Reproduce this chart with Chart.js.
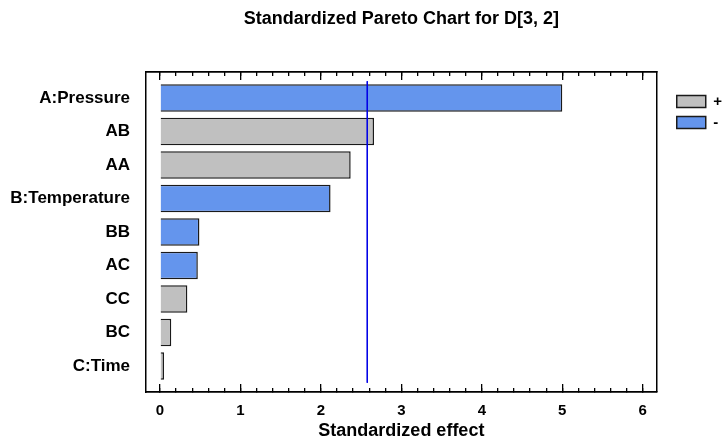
<!DOCTYPE html>
<html>
<head>
<meta charset="utf-8">
<title>Standardized Pareto Chart</title>
<script src="https://cdn.jsdelivr.net/npm/chart.js@4/dist/chart.umd.min.js"></script>
<style>
  body { margin: 0; background: #fff; }
  #wrap { width: 724px; height: 440px; }
</style>
</head>
<body>
<div id="wrap"><canvas id="paretoChart" width="724" height="440"></canvas></div>
<script>
'use strict'

// effects, largest first
let factors = ['A:Pressure', 'AB', 'AA', 'B:Temperature', 'BB', 'AC', 'CC', 'BC', 'C:Time'];
let effects = [5.00, 2.66, 2.37, 2.12, 0.49, 0.47, 0.34, 0.14, 0.05];
let signs = ['-', '+', '+', '-', '-', '-', '+', '+', '+'];
let criticalValue = 2.576;

let legendSigns = ['+', '-'];
let signColors = { '+': '#c0c0c0', '-': '#6495ed' };
let edgeColor = '#1a1a1a';

let xMin = -0.174;
let xMax = 6.174;
let yMin = -0.776;
let yMax = 8.776;

Chart.defaults.font.family = "'Liberation Sans', Arial, sans-serif";
Chart.defaults.color = '#000';

let barPoints = [];
for (let i = 0; i < effects.length; i++) {
    barPoints.push({ x: effects[i], y: i });
}

// a bare axis used only for its frame line and tick marks
function frameAxis(position, step, len) {
    return {
        type: 'linear',
        position: position,
        min: position === 'right' ? yMin : xMin,
        max: position === 'right' ? yMax : xMax,
        reverse: position === 'right',
        offset: false,
        ticks: { display: false, stepSize: step, includeBounds: false },
        grid: {
            drawOnChartArea: false,
            drawTicks: len !== 0,
            tickLength: len,
            color: '#000',
            lineWidth: 1.3
        },
        border: { display: true, color: '#000', width: 1.5 },
        afterFit: function (scale) {
            if (position === 'right') {
                scale.width = 14;
            } else {
                scale.height = 0;
            }
        }
    };
}

let ctx = document.getElementById('paretoChart').getContext('2d');
let paretoChart = new Chart(ctx, {
    type: 'bar',
    data: {
        datasets: [{
            type: 'line',
            label: 'critical',
            data: [{ x: criticalValue, y: -0.5 }, { x: criticalValue, y: 8.5 }],
            borderColor: '#0000e6',
            borderWidth: 1,
            pointRadius: 0,
            fill: false
        }, {
            label: 'effect',
            data: barPoints,
            backgroundColor: signs.map(s => signColors[s]),
            borderColor: edgeColor,
            borderWidth: 1.5,
            categoryPercentage: 1,
            barPercentage: 0.82
        }]
    },
    options: {
        indexAxis: 'y',
        responsive: false,
        animation: false,
        layout: { padding: { left: 9, right: -8, top: 0, bottom: 0 } },
        plugins: {
            title: {
                display: true,
                text: 'Standardized Pareto Chart for D[3, 2]',
                fullSize: false,
                font: { size: 18, weight: 'bold' },
                padding: { top: 8, bottom: 42.4 }
            },
            legend: {
                display: true,
                position: 'right',
                align: 'start',
                fullSize: false,
                title: { display: true, text: ' ', font: { size: 10 }, padding: { top: 4, bottom: 0 } },
                labels: {
                    boxWidth: 29,
                    boxHeight: 12,
                    padding: 6,
                    font: { size: 15, weight: 'bold' },
                    generateLabels: function () {
                        return legendSigns.map(s => ({
                            text: s,
                            fillStyle: signColors[s],
                            strokeStyle: edgeColor,
                            lineWidth: 1.5,
                            hidden: false,
                            datasetIndex: 1
                        }));
                    }
                }
            },
            tooltip: { enabled: false }
        },
        scales: {
            x: {
                type: 'linear',
                position: 'bottom',
                weight: 1,
                min: xMin,
                max: xMax,
                ticks: {
                    stepSize: 1,
                    includeBounds: false,
                    padding: 18,
                    font: { size: 15, weight: 'bold' },
                    color: '#000'
                },
                grid: {
                    drawOnChartArea: false,
                    tickLength: -8,
                    color: '#000',
                    lineWidth: 1.3
                },
                border: { display: true, color: '#000', width: 1.5 },
                title: {
                    display: true,
                    text: 'Standardized effect',
                    font: { size: 18, weight: 'bold', lineHeight: 1 },
                    padding: { top: 2, bottom: 0 },
                    color: '#000'
                },
                afterFit: function (scale) {
                    scale.height = 48;
                }
            },
            xMinor: frameAxis('bottom', 0.2, -4),
            xTop: frameAxis('top', 1, -8),
            xTopMinor: frameAxis('top', 0.2, -4),
            y: {
                type: 'linear',
                position: 'left',
                reverse: true,
                offset: false,
                min: yMin,
                max: yMax,
                ticks: {
                    stepSize: 1,
                    includeBounds: false,
                    padding: 16,
                    font: { size: 17, weight: 'bold' },
                    color: '#000',
                    callback: function (value) {
                        return factors[value];
                    }
                },
                grid: { drawOnChartArea: false, drawTicks: false, offset: false },
                border: { display: true, color: '#000', width: 1.5 },
                afterFit: function (scale) {
                    scale.width = 137;
                }
            },
            yRight: frameAxis('right', 1, 0)
        }
    }
});
</script>
</body>
</html>
